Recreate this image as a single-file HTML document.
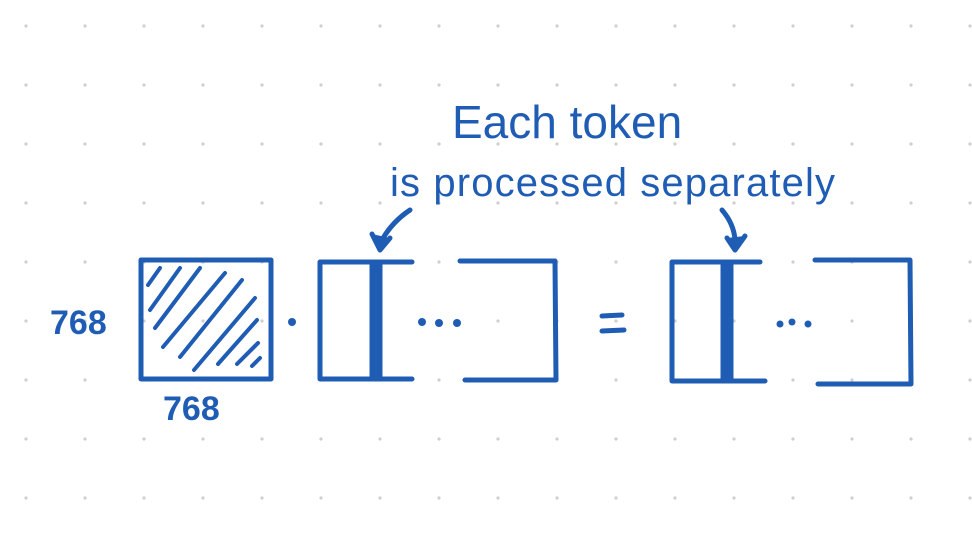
<!DOCTYPE html>
<html><head><meta charset="utf-8"><style>
html,body{margin:0;padding:0;background:#fff;}
svg{display:block}
text{font-family:"Liberation Sans",sans-serif;fill:#1f5cb4;}
</style></head><body>
<svg width="972" height="547" viewBox="0 0 972 547">
<g id="grid" fill="#cfcfcf"></g>
<g stroke="#1f5cb4" stroke-width="5" fill="none" stroke-linecap="round" stroke-linejoin="round">
  <rect x="141" y="260" width="130" height="119"/>
  <g stroke-width="4">
    <line x1="148" y1="285" x2="160" y2="268"/>
    <line x1="150" y1="310" x2="180" y2="268"/>
    <line x1="155" y1="328" x2="200" y2="268"/>
    <line x1="163" y1="347" x2="225" y2="273"/>
    <line x1="180" y1="357" x2="242" y2="280"/>
    <line x1="194" y1="370" x2="255" y2="298"/>
    <line x1="218" y1="364" x2="257" y2="320"/>
    <line x1="237" y1="364" x2="258" y2="343"/>
    <line x1="252" y1="366" x2="260" y2="358"/>
  </g>
  <g>
    <polyline points="412,262 320,262 320,379 412,379"/>
    <polyline points="460,261 555,261 556,380 465,380"/>
    <line x1="376" y1="262" x2="376" y2="379" stroke-width="13" stroke-linecap="butt"/>
  </g>
  <g>
    <polyline points="760,262 672,262 672,381 765,381"/>
    <polyline points="815,260 910,260 911,384 818,384"/>
    <line x1="727" y1="262" x2="727" y2="381" stroke-width="13" stroke-linecap="butt"/>
  </g>
  <g>
    <line x1="602" y1="316" x2="622" y2="315"/>
    <line x1="602" y1="331" x2="624" y2="330"/>
  </g>
  <path d="M410,210 Q392,222 382,240"/>
  <path d="M372,234 L380,250 L390,238" fill="#1f5cb4"/>
  <path d="M722,210 Q734,224 735,240"/>
  <path d="M727,238 L735,250 L745,236" fill="#1f5cb4"/>
</g>
<g fill="#1f5cb4">
  <circle cx="292" cy="322" r="4"/>
  <circle cx="422" cy="322" r="4"/>
  <circle cx="439" cy="323" r="4"/>
  <circle cx="457" cy="323" r="4"/>
  <circle cx="780" cy="324" r="3.5"/>
  <circle cx="792" cy="322" r="3.5"/>
  <circle cx="808" cy="324" r="3.5"/>
</g>
<text x="452" y="138" font-size="46">Each token</text>
<text x="390" y="196" font-size="40" textLength="445">is processed separately</text>
<text x="50" y="334" font-size="34" font-weight="bold">768</text>
<text x="163" y="420" font-size="34" font-weight="bold">768</text>
</svg>
<script>
var g=document.getElementById('grid');
for(var x=26;x<972;x+=59){for(var y=26;y<547;y+=59){
var c=document.createElementNS('http://www.w3.org/2000/svg','circle');
c.setAttribute('cx',x);c.setAttribute('cy',y);c.setAttribute('r',1.6);


g.appendChild(c);}}
</script>
</body></html>
